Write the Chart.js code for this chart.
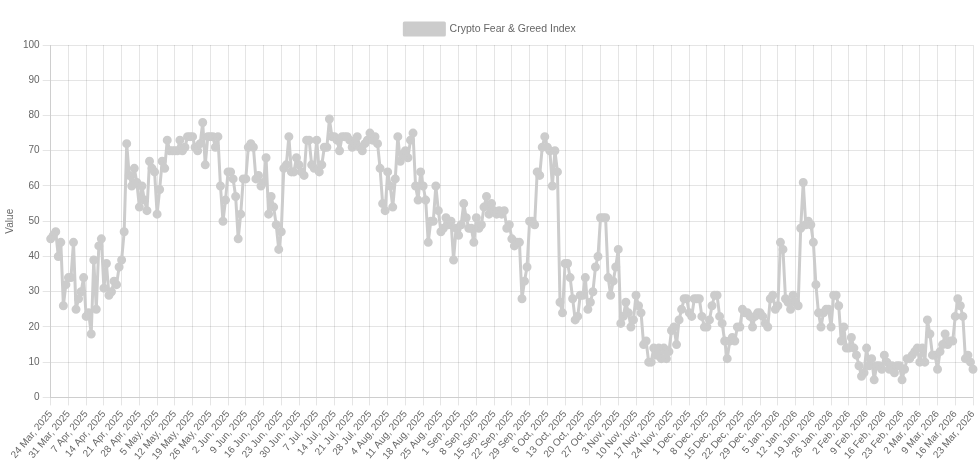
<!DOCTYPE html>
<html>
<head>
<meta charset="utf-8">
<script src="https://cdn.jsdelivr.net/npm/chart.js@4.4.1/dist/chart.umd.min.js"></script>
<style>
    body { margin: 0; background: #ffffff; }
    #wrap { width: 980px; height: 475px; }
</style>
</head>
<body>
<div id="wrap"><canvas id="fngChart" width="980" height="475"></canvas></div>
<script>
// Crypto Fear & Greed Index, one value per day from 24 Mar 2025 to 23 Mar 2026
const START_DAY   = "2025-03-24";
const MONTH_NAMES = ["Jan", "Feb", "Mar", "Apr", "May", "Jun",
                     "Jul", "Aug", "Sep", "Oct", "Nov", "Dec"];

// values, one per day
const fearGreed = [
    45, 46, 47, 40, 44, 26, 32, 34, 34, 44,
    25, 28, 30, 34, 23, 24, 18, 39, 25, 43,
    45, 31, 38, 29, 30, 33, 32, 37, 39, 47,
    72, 63, 60, 65, 61, 54, 60, 56, 53, 67,
    65, 64, 52, 59, 67, 65, 73, 70, 70, 70,
    70, 73, 70, 71, 74, 74, 74, 71, 70, 72,
    78, 66, 74, 74, 74, 71, 74, 60, 50, 56,
    64, 64, 62, 57, 45, 52, 62, 62, 71, 72,
    71, 62, 63, 60, 61, 68, 52, 57, 54, 49,
    42, 47, 65, 66, 74, 64, 64, 68, 66, 64,
    63, 73, 73, 66, 65, 73, 64, 66, 71, 71,
    79, 74, 74, 73, 70, 74, 74, 74, 73, 71,
    72, 74, 71, 70, 72, 73, 75, 73, 74, 72,
    65, 55, 53, 64, 60, 54, 62, 74, 67, 69,
    70, 68, 73, 75, 60, 56, 64, 60, 56, 44,
    50, 50, 60, 53, 47, 48, 51, 49, 50, 39,
    48, 46, 49, 55, 51, 48, 48, 44, 51, 48,
    49, 54, 57, 52, 55, 53, 52, 53, 52, 53,
    48, 49, 45, 43, 44, 44, 28, 33, 37, 50,
    50, 49, 64, 63, 71, 74, 71, 70, 60, 70,
    64, 27, 24, 38, 38, 34, 28, 22, 23, 29,
    29, 34, 25, 27, 30, 37, 40, 51, 51, 51,
    34, 29, 33, 37, 42, 21, 23, 27, 24, 20,
    22, 29, 26, 24, 15, 16, 10, 10, 14, 12,
    14, 11, 14, 11, 13, 19, 20, 15, 22, 25,
    28, 28, 24, 23, 28, 28, 28, 23, 20, 20,
    22, 26, 29, 29, 23, 21, 16, 11, 16, 17,
    16, 20, 20, 25, 24, 24, 23, 20, 23, 24,
    24, 23, 21, 20, 28, 29, 25, 26, 44, 42,
    28, 27, 25, 29, 27, 26, 48, 61, 49, 50,
    49, 44, 32, 24, 20, 24, 25, 25, 20, 29,
    29, 26, 16, 20, 14, 14, 17, 14, 12, 9,
    6, 7, 14, 9, 11, 5, 9, 9, 8, 12,
    10, 8, 9, 7, 9, 9, 5, 8, 11, 11,
    12, 13, 14, 10, 14, 10, 22, 18, 12, 12,
    8, 13, 15, 18, 15, 16, 16, 23, 28, 26,
    23, 11, 12, 10, 8
];

const yTicks = [0, 10, 20, 30, 40, 50, 60, 70, 80, 90, 100];

// one label per day, e.g. "24 Mar, 2025"
const dayLabels = [];
const d0 = new Date(START_DAY + "T00:00:00Z");
for (let i = 0; i < fearGreed.length; i++) {
    const d = new Date(d0.getTime() + i * 86400000);
    dayLabels.push(d.getUTCDate() + " " + MONTH_NAMES[d.getUTCMonth()] + ", " + d.getUTCFullYear());
}

Chart.defaults.font.family = "Arial, 'Liberation Sans', Helvetica, sans-serif";
Chart.defaults.font.size = 10;
Chart.defaults.color = "#666";

const GREY = "rgb(204, 204, 204)";

new Chart(document.getElementById("fngChart"), {
    type: "line",
    data: {
        labels: dayLabels,
        datasets: [{
            label: "Crypto Fear & Greed Index",
            data: fearGreed,
            borderColor: GREY,
            backgroundColor: GREY,
            borderWidth: 3,
            borderJoinStyle: "round",
            pointRadius: 3,
            pointBackgroundColor: GREY,
            pointBorderColor: GREY,
            tension: 0,
            fill: false
        }]
    },
    options: {
        responsive: false,
        animation: false,
        layout: { padding: { top: 15, bottom: 10 } },
        plugins: {
            legend: {
                position: "top",
                labels: {
                    boxWidth: 40,
                    boxHeight: 12,
                    padding: 8,
                    font: { size: 10.5 }
                }
            },
            tooltip: { enabled: false }
        },
        scales: {
            x: {
                grid: { color: "rgba(0,0,0,0.1)" },
                ticks: {
                    autoSkip: false,
                    maxRotation: 50,
                    minRotation: 50,
                    // only a label (and grid line) every 7th day
                    callback: function(value, index) {
                        return index % 7 === 0 ? dayLabels[index] : null;
                    }
                },
                // the last point sits almost on the right edge
                afterFit: function(scale) {
                    scale.paddingRight = 6;
                }
            },
            y: {
                min: yTicks[0],
                max: yTicks[yTicks.length - 1],
                ticks: { stepSize: 10 },
                grid: { color: "rgba(0,0,0,0.1)" },
                title: { display: true, text: "Value" }
            }
        }
    }
});
</script>
</body>
</html>
